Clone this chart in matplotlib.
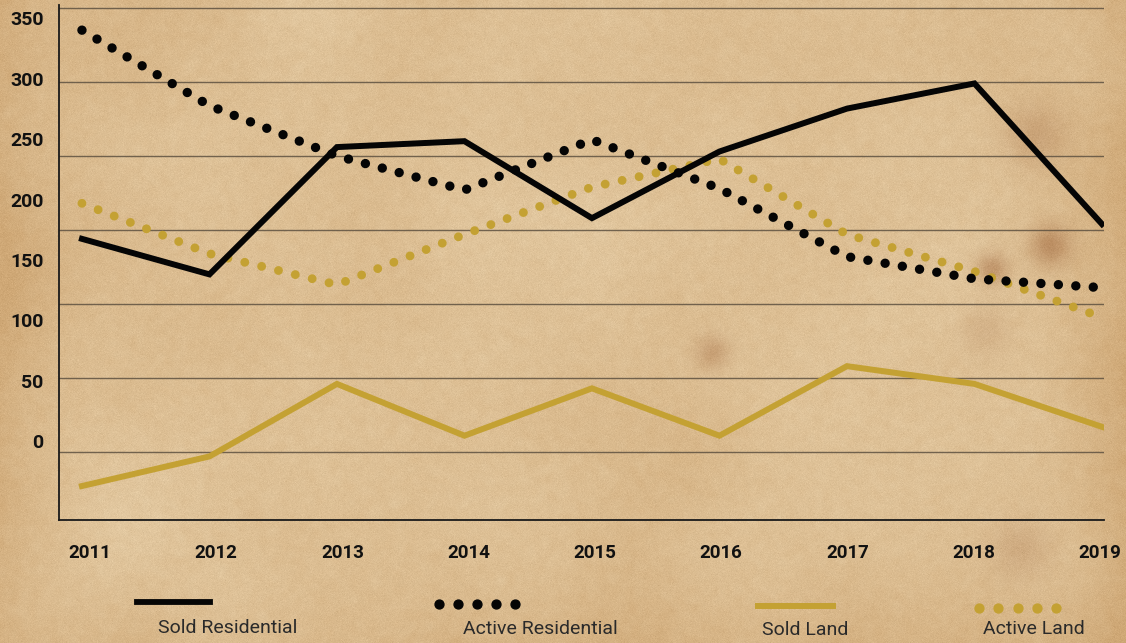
import numpy as np
import matplotlib
matplotlib.use('Agg')
import matplotlib.pyplot as plt
from matplotlib.lines import Line2D
from matplotlib.transforms import ScaledTranslation

# series values
years = [2011, 2012, 2013, 2014, 2015, 2016, 2017, 2018, 2019]
sold_residential = [194, 170, 256, 260, 208, 253, 282, 299, 204]
active_residential = [335, 284, 250, 227, 261, 228, 182, 167, 161]
sold_land = [27, 47, 96, 61, 93, 61, 108, 96, 67]
active_land = [218, 184, 163, 197, 229, 248, 197, 172, 141]

grid_values = [50, 100, 150, 200, 250, 300, 350]
ytick_labels = ['0', '50', '100', '150', '200', '250', '300', '350']
legend_labels = ['Sold Residential', 'Active Residential', 'Sold Land', 'Active Land']

BLACK = '#050505'
GOLD = '#C4A133'
W, H = 1126, 643


def fx(px):
    return px / W


def fy(py):
    return 1 - py / H


def blur(a, r):
    k = np.exp(-0.5 * (np.arange(-3 * r, 3 * r + 1) / r) ** 2)
    k /= k.sum()
    p = 3 * r
    a = np.pad(a, p, mode='reflect')
    a = np.apply_along_axis(lambda m: np.convolve(m, k, mode='same'), 0, a)
    a = np.apply_along_axis(lambda m: np.convolve(m, k, mode='same'), 1, a)
    return a[p:-p, p:-p]


# old paper background
rng = np.random.default_rng(11)
coarse = blur(rng.normal(size=(H // 4, W // 4)), 10)
coarse = coarse / np.abs(coarse).max()
coarse = np.kron(coarse, np.ones((4, 4)))
coarse = np.pad(coarse, ((0, H - coarse.shape[0]), (0, W - coarse.shape[1])), mode='edge')
mid = blur(rng.normal(size=(H, W)), 3)
mid = mid / np.abs(mid).max()
yy, xx = np.mgrid[0:H, 0:W]
edge = np.clip(1 - np.minimum(xx, W - xx) / 120, 0, 1) ** 2 + np.clip(1 - (H - yy) / 140, 0, 1) ** 2 * 0.6
t = np.clip(0.35 + 0.35 * coarse + 0.2 * mid + 0.5 * edge, 0, 1)
light = np.array([228, 203, 164]) / 255
dark = np.array([207, 168, 118]) / 255
img = light[None, None, :] * (1 - t[..., None]) + dark[None, None, :] * t[..., None]
stains = [(1050, 245, 14, 0.45), (992, 268, 11, 0.4), (1035, 135, 22, 0.25),
          (712, 352, 12, 0.3), (1020, 548, 22, 0.2), (985, 330, 18, 0.15)]
stain_col = np.array([150, 88, 45]) / 255
for sx, sy, sr, sa in stains:
    m = sa * np.exp(-((xx - sx) ** 2 + (yy - sy) ** 2) / (2 * sr ** 2))
    img = img * (1 - m[..., None]) + stain_col[None, None, :] * m[..., None]
img += rng.normal(scale=0.012, size=(H, W))[..., None]
img = np.clip(img, 0, 1)

fig = plt.figure(figsize=(W / 100, H / 100), dpi=100)
bg = fig.add_axes([0, 0, 1, 1])
bg.imshow(img, aspect='auto', interpolation='bilinear')
bg.axis('off')

ax = fig.add_axes([fx(59), fy(520), fx(1104 - 59), (520 - 5) / H])
ax.patch.set_alpha(0)
ax.set_xlim(2010.82, 2019.016)
ax.set_ylim(4.05, 352)

for g in grid_values:
    ax.axhline(g, color='#5e5140', lw=1.0, alpha=0.85, zorder=1)

# dotted series: round caps on near-zero dashes give dots
ax.plot(years, sold_land, color=GOLD, lw=4.3, solid_joinstyle='miter', zorder=2)
ax.plot(years, active_land, color=GOLD, lw=6.4, linestyle=(0, (0.001, 1.95)),
        dash_capstyle='round', zorder=3)
ax.plot(years, active_residential, color=BLACK, lw=6.8, linestyle=(0, (0.001, 1.85)),
        dash_capstyle='round', zorder=4)
ax.plot(years, sold_residential, color=BLACK, lw=4.3, solid_joinstyle='miter', zorder=5)

for side in ['top', 'right']:
    ax.spines[side].set_visible(False)
for side in ['left', 'bottom']:
    ax.spines[side].set_color('#1a1a1a')
    ax.spines[side].set_linewidth(1.3)

ax.set_xticks(years, [str(y) for y in years])
ax.set_yticks(np.linspace(57.1, 343.2, 8), ytick_labels)
ax.tick_params(axis='x', length=0, pad=17, labelsize=13.5, labelcolor='#111111')
ax.tick_params(axis='y', length=0, pad=11, labelsize=14, labelcolor='#111111')
# year labels sit a little right of their points on the left, drifting back on the right
xlabs = ax.get_xticklabels()
for i, lab in enumerate(xlabs):
    dx = (8 - 10 * i / (len(xlabs) - 1)) / 100
    lab.set_transform(lab.get_transform() + ScaledTranslation(dx, 0, fig.dpi_scale_trans))
for lab in ax.get_xticklabels() + ax.get_yticklabels():
    lab.set_fontweight('bold')
    lab.set_family('Roboto')

# legend row: handle above label
fig.add_artist(Line2D([fx(137), fx(210)], [fy(602), fy(602)], color=BLACK, lw=4.2))
fig.add_artist(Line2D(np.linspace(fx(439), fx(515), 5), [fy(604)] * 5, color=BLACK,
                      linestyle='none', marker='o', markersize=6.4))
fig.add_artist(Line2D([fx(758), fx(833)], [fy(606), fy(606)], color=GOLD, lw=4.3))
fig.add_artist(Line2D(np.linspace(fx(979), fx(1056), 5), [fy(608)] * 5, color=GOLD,
                      linestyle='none', marker='o', markersize=6.4))
for lx, ly, txt in zip([158, 463, 762, 983], [628, 629, 630, 629], legend_labels):
    fig.text(fx(lx), fy(ly), txt, ha='left', va='center', fontsize=14,
             color='#2a2a2a', family='Roboto')

fig.savefig('out.png', dpi=100)
